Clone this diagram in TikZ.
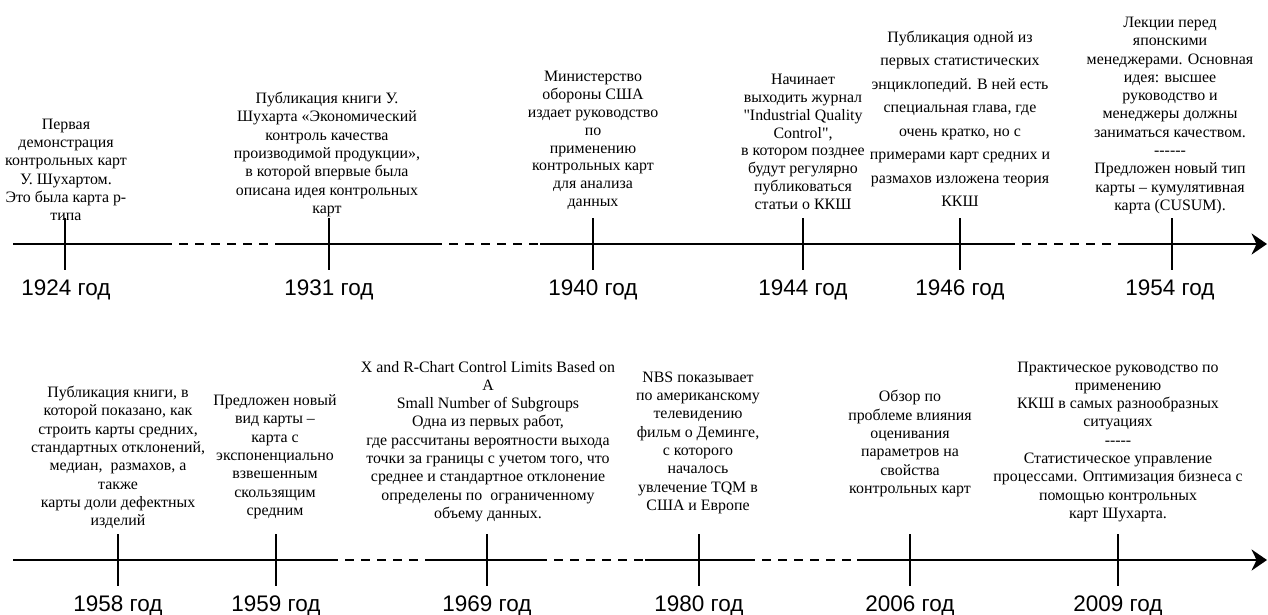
\documentclass[tikz,border=0pt]{standalone}
\usepackage{fontspec}
\setmainfont{Liberation Serif}[Ligatures=TeXOff]
\newfontfamily\yearfont{Liberation Sans}
\usetikzlibrary{arrows.meta}

\begin{document}
\begin{tikzpicture}[x=0.025cm, y=-0.025cm,
  event/.style={align=center, inner sep=0pt, anchor=south,
    font=\fontsize{11.3}{13}\selectfont},
  year/.style={anchor=base, inner sep=0pt, font=\yearfont\fontsize{16}{19}\selectfont},
  axisline/.style={line width=1.5pt, draw=black},
  dashseg/.style={axisline, dash pattern=on 6.4pt off 5pt, dash phase=6.4pt},
  yeartick/.style={line width=1.5pt, draw=black},
  arrow/.style={axisline, -{Stealth[length=11pt, width=15pt]}}
]
\useasboundingbox (0,0) rectangle (1268,614);
% upper axis
\coordinate (u0) at (13,244);
\coordinate (u1) at (172,244);
\coordinate (u2) at (277,244);
\coordinate (u3) at (442,244);
\coordinate (u4) at (540,244);
\coordinate (u5) at (1015,244);
\coordinate (u6) at (1120,244);
\coordinate (u7) at (1267,244);
\draw[axisline] (u0) -- (u1);
\draw[dashseg] (u1) -- (u2);
\draw[axisline] (u2) -- (u3);
\draw[dashseg] (u3) -- (u4);
\draw[axisline] (u4) -- (u5);
\draw[dashseg] (u5) -- (u6);
\draw[arrow] (u6) -- (u7);
% lower axis
\coordinate (l0) at (13,560);
\coordinate (l1) at (338,560);
\coordinate (l2) at (432,560);
\coordinate (l3) at (547,560);
\coordinate (l4) at (645,560);
\coordinate (l5) at (755,560);
\coordinate (l6) at (857,560);
\coordinate (l7) at (1267,560);
\draw[axisline] (l0) -- (l1);
\draw[dashseg] (l1) -- (l2);
\draw[axisline] (l2) -- (l3);
\draw[dashseg] (l3) -- (l4);
\draw[axisline] (l4) -- (l5);
\draw[dashseg] (l5) -- (l6);
\draw[arrow] (l6) -- (l7);
% ticks
\coordinate (k24) at (65,244);
\coordinate (k31) at (329,244);
\coordinate (k40) at (593,244);
\coordinate (k44) at (803,244);
\coordinate (k46) at (960,244);
\coordinate (k54) at (1172,244);
\coordinate (k58) at (118,560);
\coordinate (k59) at (276,560);
\coordinate (k69) at (487,560);
\coordinate (k80) at (699,560);
\coordinate (k06) at (910,560);
\coordinate (k09) at (1118,560);
\draw[yeartick] ([yshift=0.65cm]k24) -- ([yshift=-0.65cm]k24);
\draw[yeartick] ([yshift=0.65cm]k31) -- ([yshift=-0.65cm]k31);
\draw[yeartick] ([yshift=0.65cm]k40) -- ([yshift=-0.65cm]k40);
\draw[yeartick] ([yshift=0.65cm]k44) -- ([yshift=-0.65cm]k44);
\draw[yeartick] ([yshift=0.65cm]k46) -- ([yshift=-0.65cm]k46);
\draw[yeartick] ([yshift=0.65cm]k54) -- ([yshift=-0.65cm]k54);
\draw[yeartick] ([yshift=0.65cm]k58) -- ([yshift=-0.65cm]k58);
\draw[yeartick] ([yshift=0.65cm]k59) -- ([yshift=-0.65cm]k59);
\draw[yeartick] ([yshift=0.65cm]k69) -- ([yshift=-0.65cm]k69);
\draw[yeartick] ([yshift=0.65cm]k80) -- ([yshift=-0.65cm]k80);
\draw[yeartick] ([yshift=0.65cm]k06) -- ([yshift=-0.65cm]k06);
\draw[yeartick] ([yshift=0.65cm]k09) -- ([yshift=-0.65cm]k09);
% years
\node[year] (y24) at (66,295) {1924 год};
\node[year] (y31) at (329,295) {1931 год};
\node[year] (y40) at (593,295) {1940 год};
\node[year] (y44) at (803,295) {1944 год};
\node[year] (y46) at (960,295) {1946 год};
\node[year] (y54) at (1170,295) {1954 год};
\node[year] (y58) at (118,611) {1958 год};
\node[year] (y59) at (276,611) {1959 год};
\node[year] (y69) at (487,611) {1969 год};
\node[year] (y80) at (699,611) {1980 год};
\node[year] (y06) at (910,611) {2006 год};
\node[year] (y09) at (1118,611) {2009 год};
% events, upper row
\node[event] (e24) at (66,221) {Первая\\демонстрация\\контрольных карт\\У. Шухартом.\\Это была карта р-\\типа};
\node[event] (e31) at (327,217) {Публикация книги У.\\Шухарта «Экономический\\контроль качества\\производимой продукции»,\\в которой впервые была\\описана идея контрольных\\карт};
\node[event, font=\fontsize{11.3}{12.7}\selectfont] (e40) at (593,210) {Министерство\\обороны США\\издает руководство\\по\\применению\\контрольных карт\\для анализа\\данных};
\node[event, font=\fontsize{11.3}{12.7}\selectfont] (e44) at (803,210) {Начинает\\выходить журнал\\"Industrial Quality\\Control",\\в котором позднее\\будут регулярно\\публиковаться\\статьи о ККШ};
\node[event, font=\fontsize{11.3}{16.7}\selectfont] (e46) at (960,207) {Публикация одной из\\первых статистических\\энциклопедий. В ней есть\\специальная глава, где\\очень кратко, но с\\примерами карт средних и\\размахов изложена теория\\ККШ};
\node[event] (e54) at (1170,214) {Лекции перед\\японскими\\менеджерами. Основная\\идея: высшее\\руководство и\\менеджеры должны\\заниматься качеством.\\------\\Предложен новый тип\\карты – кумулятивная\\карта (CUSUM).};
% events, lower row
\node[event] (e58) at (118,529) {Публикация книги, в\\которой показано, как\\строить карты средних,\\стандартных отклонений,\\медиан,\ \ размахов, а\\также\\карты доли дефектных\\изделий};
\node[event] (e59) at (275,519) {Предложен новый\\вид карты –\\карта с\\экспоненциально\\взвешенным\\скользящим\\средним};
\node[event] (e69) at (488,522) {X and R-Chart Control Limits Based on\\A\\Small Number of Subgroups\\Одна из первых работ,\\где рассчитаны вероятности выхода\\точки за границы с учетом того, что\\среднее и стандартное отклонение\\определены по\ \ ограниченному\\объему данных.};
\node[event] (e80) at (698,514) {NBS показывает\\по американскому\\телевидению\\фильм о Деминге,\\с которого\\началось\\увлечение TQM в\\США и Европе};
\node[event] (e06) at (910,497) {Обзор по\\проблеме влияния\\оценивания\\параметров на\\свойства\\контрольных карт};
\node[event] (e09) at (1118,522) {Практическое руководство по\\применению\\ККШ в самых разнообразных\\ситуациях\\-----\\Статистическое управление\\процессами. Оптимизация бизнеса с\\помощью контрольных\\карт Шухарта.};
\end{tikzpicture}
\end{document}
